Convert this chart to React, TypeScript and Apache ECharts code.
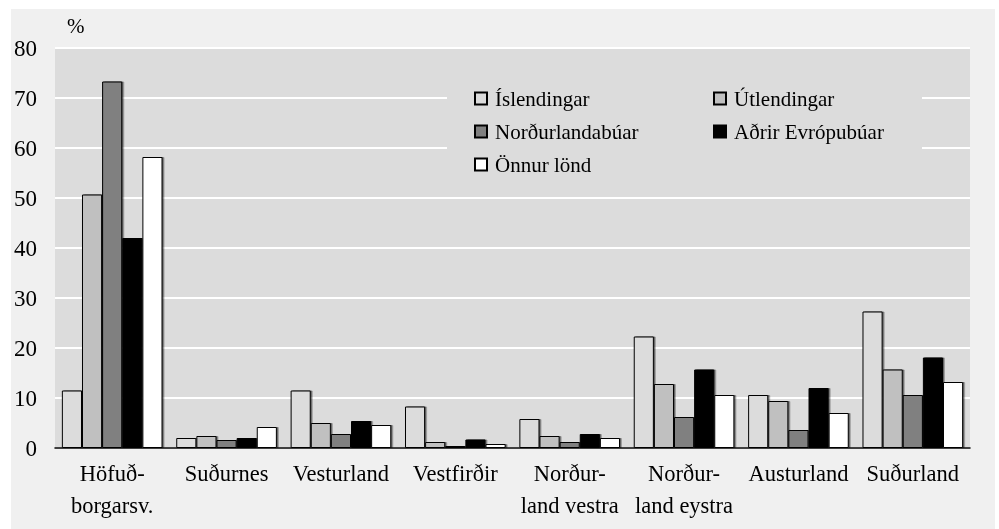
import React, { useEffect, useRef } from "react";
import * as echarts from "echarts";

const categories = [
  "Höfuð-\nborgarsv.",
  "Suðurnes",
  "Vesturland",
  "Vestfirðir",
  "Norður-\nland vestra",
  "Norður-\nland eystra",
  "Austurland",
  "Suðurland",
];
const seriesNames = ["Íslendingar", "Útlendingar", "Norðurlandabúar", "Aðrir Evrópubúar", "Önnur lönd"];
const islendingar = [11.5, 2.0, 11.5, 8.3, 5.8, 22.3, 10.6, 27.3];
const utlendingar = [50.7, 2.4, 5.0, 1.2, 2.4, 12.8, 9.4, 15.7];
const nordurlandabuar = [73.3, 1.6, 2.8, 0.4, 1.2, 6.2, 3.6, 10.6];
const adrirEvropubuar = [42.0, 2.0, 5.4, 1.7, 2.8, 15.7, 12.0, 18.1];
const onnurLond = [58.2, 4.2, 4.6, 0.8, 2.0, 10.6, 7.0, 13.2];
const seriesColors = ["#dcdcdc", "#c0c0c0", "#808080", "#000000", "#ffffff"];

const FONT = "'Liberation Serif', 'Times New Roman', serif";

export default function App() {
  const ref = useRef<HTMLDivElement>(null);
  useEffect(() => {
    if (!ref.current) return;
    const chart = echarts.init(ref.current, undefined, { renderer: "svg" });
    const values = [islendingar, utlendingar, nordurlandabuar, adrirEvropubuar, onnurLond];
    const textWidths = [208, 168, 208, 168, 208];
    chart.setOption({
      animation: false,
      graphic: [
        {
          type: "rect",
          z: -100,
          silent: true,
          shape: { x: 11, y: 9, width: 984, height: 520 },
          style: { fill: "#f0f0f0" },
        },
        {
          type: "text",
          left: 67,
          top: 15,
          style: { text: "%", fontFamily: FONT, fontSize: 21, fill: "#000" },
        },
      ],
      grid: {
        left: 55,
        right: 29,
        top: 48,
        bottom: 81,
        show: true,
        backgroundColor: "#dcdcdc",
        borderWidth: 0,
      },
      legend: {
        left: 447,
        top: 79,
        width: 438,
        orient: "horizontal",
        padding: [8, 20, 8, 27],
        backgroundColor: "#dcdcdc",
        itemWidth: 12,
        itemHeight: 12,
        itemGap: 10,
        icon: "rect",
        data: seriesNames.map((n, i) => ({
          name: n,
          textStyle: { width: textWidths[i] },
        })),
        textStyle: {
          fontFamily: FONT,
          fontSize: 21,
          color: "#000",
          lineHeight: 23,
          padding: [0, 0, 0, 3],
        },
      },
      xAxis: {
        type: "category",
        data: categories,
        axisLine: { show: true, lineStyle: { color: "#000", width: 1.5 } },
        axisTick: { show: false },
        axisLabel: {
          interval: 0,
          margin: 9,
          fontFamily: FONT,
          fontSize: 22.5,
          lineHeight: 32,
          color: "#000",
          verticalAlign: "top",
        },
      },
      yAxis: {
        type: "value",
        min: 0,
        max: 80,
        interval: 10,
        axisLine: { show: false },
        axisTick: { show: false },
        axisLabel: {
          margin: 18,
          fontFamily: FONT,
          fontSize: 23,
          color: "#000",
        },
        splitLine: { show: true, lineStyle: { color: "#ffffff", width: 2 } },
      },
      series: seriesNames.map((name, i) => ({
        name,
        type: "bar",
        data: values[i],
        barGap: "0%",
        barCategoryGap: "12%",
        itemStyle: {
          color: seriesColors[i],
          borderColor: "#000",
          borderWidth: 1,
          shadowColor: "rgba(0,0,0,0.55)",
          shadowOffsetX: 1.5,
          shadowOffsetY: 0,
          shadowBlur: 0,
        },
      })),
    });
    return () => chart.dispose();
  }, []);
  return (
    <div
      ref={ref}
      style={{ position: "fixed", left: 0, top: 0, width: 999, height: 529 }}
    />
  );
}
